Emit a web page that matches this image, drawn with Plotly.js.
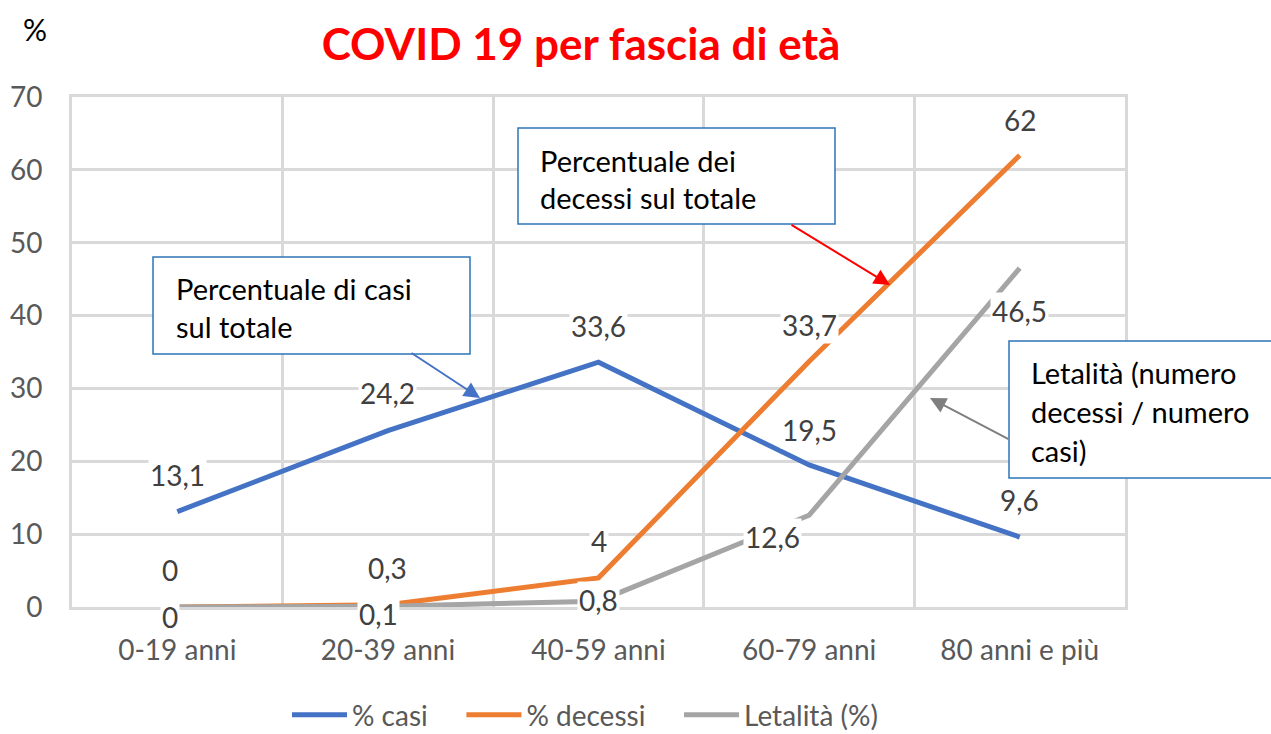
<!DOCTYPE html>
<html>
<head>
<meta charset="utf-8">
<script src="https://cdn.plot.ly/plotly-3.0.1.min.js"></script>
<style>html,body{margin:0;padding:0;background:#fff;}#chart{width:1271px;height:734px;}</style>
</head>
<body>
<div id="chart"></div>
<script>
const categories = ['0-19 anni', '20-39 anni', '40-59 anni', '60-79 anni', '80 anni e più'];
const casi = [13.1, 24.2, 33.6, 19.5, 9.6];
const decessi = [0, 0.3, 4, 33.7, 62];
const letalita = [0, 0.1, 0.8, 12.6, 46.5];
const seriesNames = ['% casi', '% decessi', 'Letalità (%)'];
const yTicks = [0, 10, 20, 30, 40, 50, 60, 70];

// style: label offsets in pixels (not data)
const labelOffsets = [
  [[0, 37], [0, 38], [0, 36], [0, 35], [0, 37]],
  [[-7, 37], [0, 37], [0, 37], [0, 36], [0, 35]],
  [[-7, -10], [-9, -8], [0, 1], [-37, -22], [0, -43]]
];
const colors = ['#4472C4', '#ED7D31', '#A5A5A5'];
const FONT = 'Lato, "Open Sans", sans-serif';
const NB = '\u00a0';

const L = 72, R = 1125, T = 97, B = 607;
const px = X => (X - L) / (R - L);
const py = Y => (B - Y) / (B - T);

const allSeries = [casi, decessi, letalita];
const traces = allSeries.map((vals, i) => ({
  type: 'scatter', mode: 'lines', x: categories, y: vals,
  name: seriesNames[i] + (i < 2 ? NB.repeat(4) : ''),
  line: {color: colors[i], width: 5}, hoverinfo: 'skip'
}));

const fmt = v => String(v).replace('.', ',');
const annotations = [];
allSeries.forEach((vals, i) => {
  vals.forEach((v, j) => {
    annotations.push({
      x: categories[j], y: v, xref: 'x', yref: 'y', text: fmt(v), showarrow: false,
      xshift: labelOffsets[i][j][0], yshift: labelOffsets[i][j][1],
      bgcolor: '#FFFFFF', borderpad: 1,
      font: {family: FONT, size: 28, color: '#404040'}
    });
  });
});

// callout text lines
const callouts = [
  {x: 174, ys: [288, 326], lines: ['Percentuale di casi', 'sul totale']},
  {x: 538, ys: [160, 197], lines: ['Percentuale dei', 'decessi sul totale']},
  {x: 1029, ys: [372, 411, 450], lines: ['Letalità (numero', 'decessi / numero', 'casi)']}
];
callouts.forEach(c => c.lines.forEach((t, k) => annotations.push({
  xref: 'paper', yref: 'paper', x: px(c.x), y: py(c.ys[k]), xanchor: 'left', yanchor: 'middle',
  text: t, showarrow: false, font: {family: FONT, size: 29, color: '#000000'}
})));

// arrows
const arrows = [
  {hx: 480, hy: 398, tx: 410, ty: 352, c: '#4472C4'},
  {hx: 890, hy: 285, tx: 790, ty: 224, c: '#FF0000'},
  {hx: 930, hy: 398, tx: 1010, ty: 440, c: '#7F7F7F'}
];
arrows.forEach(a => annotations.push({
  xref: 'paper', yref: 'paper', x: px(a.hx), y: py(a.hy), ax: a.tx - a.hx, ay: a.ty - a.hy,
  text: '', showarrow: true, arrowhead: 2, arrowsize: 1.6, arrowwidth: 2, arrowcolor: a.c, standoff: 0, startstandoff: 0
}));

annotations.push({
  xref: 'paper', yref: 'paper', x: px(35), y: py(29), xanchor: 'center', yanchor: 'middle',
  text: '%', showarrow: false, font: {family: FONT, size: 30, color: '#000000'}
});

const boxes = [[153, 257, 470, 354], [518, 128, 835, 224], [1009, 341, 1272, 478]];
const shapes = boxes.map(b => ({
  type: 'rect', xref: 'paper', yref: 'paper', x0: px(b[0]), x1: px(b[2]), y0: py(b[3]), y1: py(b[1]),
  line: {color: '#2E75B6', width: 1.5}, fillcolor: '#FFFFFF', layer: 'above'
}));

const layout = {
  width: 1271, height: 734, autosize: false,
  margin: {l: L, r: 1271 - R, t: T, b: 734 - B, pad: 0},
  paper_bgcolor: '#FFFFFF', plot_bgcolor: '#FFFFFF',
  title: {text: '<b>COVID 19 per fascia di età</b>', font: {family: FONT, size: 44, color: '#FF0000'},
    x: 581 / 1271, xanchor: 'center', y: 1 - 45 / 734, yanchor: 'middle'},
  xaxis: {type: 'category', range: [-0.5, 4.5], tickson: 'boundaries', showgrid: true,
    gridcolor: '#D9D9D9', gridwidth: 3, ticks: '', showline: true, mirror: true,
    linecolor: '#D9D9D9', linewidth: 3, ticklabelstandoff: 16, automargin: false,
    tickfont: {family: FONT, size: 28, color: '#595959'}, fixedrange: true},
  yaxis: {range: [0, 70], tickvals: yTicks, showgrid: true, gridcolor: '#D9D9D9', gridwidth: 3,
    zeroline: false, showline: true, mirror: true, linecolor: '#D9D9D9', linewidth: 3, ticks: '',
    ticklabelstandoff: 21, automargin: false, tickfont: {family: FONT, size: 28, color: '#595959'}, fixedrange: true},
  legend: {orientation: 'h', xref: 'container', yref: 'container', x: 585 / 1271, xanchor: 'center',
    y: 1 - 715 / 734, yanchor: 'middle', itemwidth: 55,
    font: {family: FONT, size: 28, color: '#595959'}, bgcolor: 'rgba(0,0,0,0)'},
  showlegend: true,
  annotations: annotations,
  shapes: shapes
};

Plotly.newPlot('chart', traces, layout, {staticPlot: true, displayModeBar: false});
</script>
</body>
</html>
